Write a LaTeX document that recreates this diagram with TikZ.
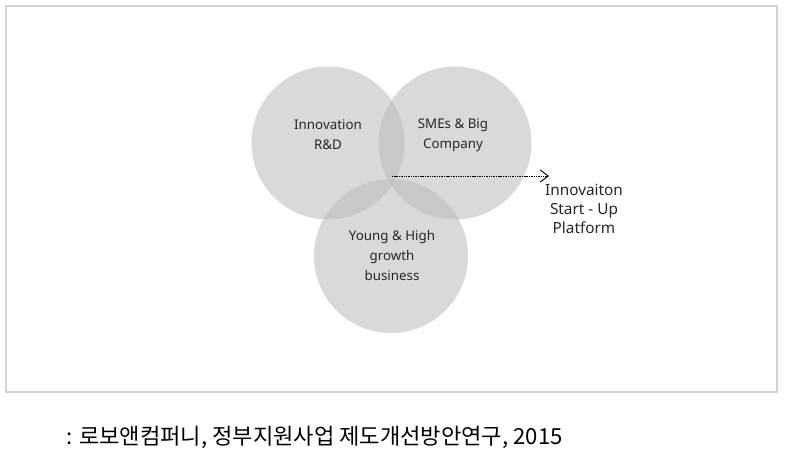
\documentclass[tikz,border=0pt]{standalone}
\usepackage{fontspec}
\setmainfont{Noto Sans}
\newfontfamily\krfont{Noto Sans CJK KR}
\usetikzlibrary{arrows.meta}
\definecolor{circfill}{RGB}{186,186,186}
\definecolor{framecol}{RGB}{212,212,212}
\begin{document}
\begin{tikzpicture}[x=0.75pt,y=-0.75pt,
  venn/.style={fill=circfill,fill opacity=0.55,draw=none},
  lbl/.style={align=center,font=\fontsize{10}{15}\selectfont,text=black!85},
]
\useasboundingbox (0,0) rectangle (794,462);
\draw[framecol,line width=1.1pt] (6,6) rectangle (777,392);
\fill[venn] (328,143) circle (76.5);
\fill[venn] (455,143) circle (76.5);
\fill[venn] (391,256) circle (77);
\node[lbl] (rd) at (328,135) {Innovation\\R\&D};
\node[lbl] (sme) at (453,135) {SMEs \& Big\\Company};
\node[lbl] (young) at (392,255) {Young \& High\\growth\\business};
\coordinate (start) at (392,176);
\node[lbl,anchor=north,font=\fontsize{11.5}{14.5}\selectfont] (plat) at (584,179) {Innovaiton\\Start - Up\\Platform};
\coordinate (tip) at (549,176);
\draw[dash pattern=on 0.8pt off 0.5pt,line width=0.7pt,-{Straight Barb[length=6pt,width=9pt]}] (start) -- (tip);
\node[anchor=west,inner sep=0pt,font=\fontsize{16.6}{18}\selectfont] (src) at (66,437) {\krfont : 로보앤컴퍼니, 정부지원사업 제도개선방안연구, 2015};
\end{tikzpicture}
\end{document}
